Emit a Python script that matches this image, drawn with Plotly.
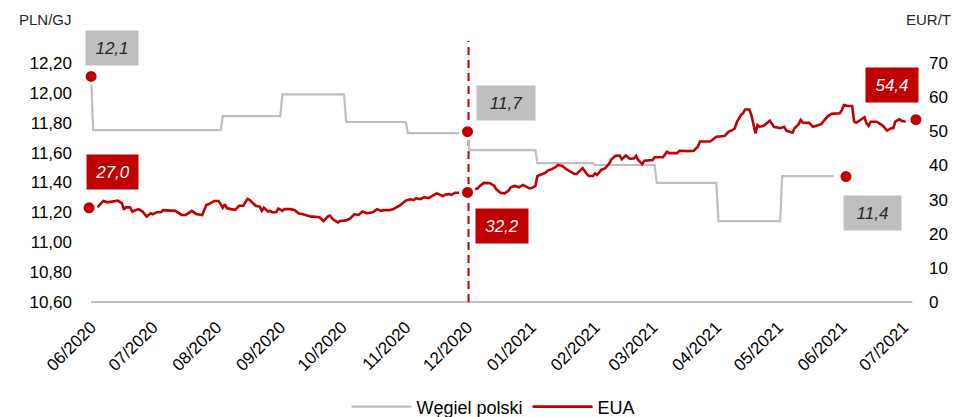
import plotly.graph_objects as go

# ---------------- data ----------------
coal_dates = ["2020-06-01", "2020-06-02", "2020-08-03", "2020-08-04", "2020-09-01", "2020-09-02",
              "2020-10-02", "2020-10-03", "2020-11-01", "2020-11-02", "2020-12-01", "2020-12-02",
              "2021-01-03", "2021-01-04", "2021-01-31", "2021-02-01", "2021-03-02", "2021-03-03",
              "2021-04-01", "2021-04-02", "2021-05-02", "2021-05-03", "2021-05-28"]
coal_values = [12.11, 11.75, 11.75, 11.845, 11.845, 11.99,
               11.99, 11.805, 11.805, 11.73, 11.73, 11.617,
               11.617, 11.53, 11.53, 11.517, 11.517, 11.397,
               11.397, 11.142, 11.142, 11.443, 11.443]

eua_dates = ["2020-06-04", "2020-06-07", "2020-06-09", "2020-06-12", "2020-06-14", "2020-06-16", "2020-06-17",
             "2020-06-18", "2020-06-20", "2020-06-21", "2020-06-22", "2020-06-24", "2020-06-26", "2020-06-27",
             "2020-06-28", "2020-06-30", "2020-07-01", "2020-07-03", "2020-07-05", "2020-07-06", "2020-07-09",
             "2020-07-12", "2020-07-15", "2020-07-17", "2020-07-20", "2020-07-22", "2020-07-25", "2020-07-27",
             "2020-07-28", "2020-07-31", "2020-08-02", "2020-08-04", "2020-08-05", "2020-08-06", "2020-08-08",
             "2020-08-10", "2020-08-12", "2020-08-14", "2020-08-16", "2020-08-17", "2020-08-20", "2020-08-22",
             "2020-08-23", "2020-08-24", "2020-08-26", "2020-08-27", "2020-08-28", "2020-08-30", "2020-08-31",
             "2020-09-02", "2020-09-03", "2020-09-06", "2020-09-08", "2020-09-10", "2020-09-12", "2020-09-14",
             "2020-09-16", "2020-09-17", "2020-09-20", "2020-09-22", "2020-09-24", "2020-09-25", "2020-09-27",
             "2020-09-29", "2020-09-30", "2020-10-03", "2020-10-05", "2020-10-07", "2020-10-09", "2020-10-11",
             "2020-10-13", "2020-10-16", "2020-10-18", "2020-10-20", "2020-10-21", "2020-10-24", "2020-10-26",
             "2020-10-28", "2020-10-29", "2020-11-01", "2020-11-03", "2020-11-05", "2020-11-06", "2020-11-08",
             "2020-11-10", "2020-11-12", "2020-11-14", "2020-11-16", "2020-11-17", "2020-11-19", "2020-11-20",
             "2020-11-22", "2020-11-23", "2020-11-25", "2020-11-27", "2020-12-01", "2020-12-06", "2020-12-07",
             "2020-12-09", "2020-12-12", "2020-12-14", "2020-12-15", "2020-12-17", "2020-12-19", "2020-12-21",
             "2020-12-22", "2020-12-24", "2020-12-26", "2020-12-28", "2020-12-29", "2020-12-31", "2021-01-01",
             "2021-01-03", "2021-01-04", "2021-01-06", "2021-01-08", "2021-01-09", "2021-01-11", "2021-01-13",
             "2021-01-14", "2021-01-16", "2021-01-18", "2021-01-20", "2021-01-22", "2021-01-23", "2021-01-25",
             "2021-01-26", "2021-01-28", "2021-01-29", "2021-01-31", "2021-02-01", "2021-02-02", "2021-02-04",
             "2021-02-06", "2021-02-08", "2021-02-09", "2021-02-11", "2021-02-13", "2021-02-14", "2021-02-16",
             "2021-02-18", "2021-02-20", "2021-02-21", "2021-02-22", "2021-02-24", "2021-02-25", "2021-02-27",
             "2021-03-01", "2021-03-02", "2021-03-06", "2021-03-08", "2021-03-09", "2021-03-13", "2021-03-14",
             "2021-03-18", "2021-03-21", "2021-03-23", "2021-03-24", "2021-03-26", "2021-03-29", "2021-04-01",
             "2021-04-05", "2021-04-07", "2021-04-09", "2021-04-10", "2021-04-11", "2021-04-13", "2021-04-14",
             "2021-04-15", "2021-04-17", "2021-04-18", "2021-04-19", "2021-04-20", "2021-04-21", "2021-04-22",
             "2021-04-24", "2021-04-26", "2021-04-27", "2021-04-29", "2021-05-02", "2021-05-04", "2021-05-05",
             "2021-05-08", "2021-05-09", "2021-05-11", "2021-05-12", "2021-05-13", "2021-05-16", "2021-05-18",
             "2021-05-20", "2021-05-22", "2021-05-25", "2021-05-27", "2021-05-31", "2021-06-01", "2021-06-02",
             "2021-06-04", "2021-06-06", "2021-06-07", "2021-06-08", "2021-06-10", "2021-06-12", "2021-06-13",
             "2021-06-14", "2021-06-15", "2021-06-18", "2021-06-21", "2021-06-23", "2021-06-25", "2021-06-26",
             "2021-06-27", "2021-06-29", "2021-06-30", "2021-07-02"]
eua_values = [27.7, 29.6, 29.2, 29.4, 29.7, 28.9, 27.0,
              27.8, 27.7, 26.5, 26.7, 27.2, 26.5, 25.7,
              25.0, 26.0, 25.7, 26.3, 26.3, 26.9, 26.7,
              26.7, 25.5, 25.5, 26.7, 25.8, 25.5, 28.4,
              28.6, 29.6, 29.6, 27.6, 28.6, 27.5, 27.2,
              27.0, 28.2, 28.2, 30.2, 29.9, 28.2, 27.9,
              26.7, 27.6, 26.5, 26.7, 26.3, 26.3, 27.4,
              26.7, 27.2, 27.2, 26.9, 25.9, 25.7, 25.3,
              25.0, 25.0, 24.8, 23.7, 25.0, 25.3, 24.0,
              23.3, 23.7, 23.9, 24.5, 25.7, 25.5, 26.5,
              26.0, 26.3, 27.2, 26.7, 26.9, 26.9, 27.2,
              27.9, 28.2, 29.7, 30.1, 29.9, 30.4, 30.1,
              30.7, 30.4, 31.0, 31.8, 31.6, 31.0, 31.4,
              31.6, 31.4, 32.0, 32.0, 32.1, 33.3, 34.0,
              34.9, 34.8, 34.0, 33.0, 32.0, 31.8, 32.6,
              33.6, 34.0, 33.6, 34.3, 34.0, 33.3, 33.3,
              34.0, 36.9, 37.5, 37.9, 38.5, 38.9, 39.6,
              40.1, 39.9, 38.9, 38.2, 37.5, 37.5, 38.7,
              39.2, 37.5, 36.9, 36.9, 37.7, 37.2, 38.7,
              39.2, 40.6, 41.8, 42.8, 42.9, 41.8, 42.9,
              41.9, 42.1, 42.8, 41.6, 40.4, 41.4, 41.6,
              41.6, 42.4, 42.4, 44.0, 43.6, 43.6, 44.3,
              44.2, 44.3, 45.5, 47.0, 47.0, 47.0, 48.4,
              48.6, 49.9, 50.4, 50.9, 52.8, 54.8, 55.3,
              56.4, 56.4, 54.8, 52.3, 49.4, 51.8, 51.3,
              51.6, 52.8, 53.1, 51.3, 50.9, 51.3, 50.2,
              49.6, 50.9, 52.1, 53.3, 52.5, 52.5, 51.3,
              51.6, 52.1, 54.3, 55.1, 55.3, 56.2, 57.7,
              57.4, 57.4, 52.8, 52.5, 53.3, 54.1, 52.3,
              51.6, 52.8, 52.8, 51.6, 50.2, 50.9, 50.9,
              52.8, 53.5, 53.1, 52.8]

# highlighted points and their labels
coal_mark_dates = ["2020-06-01", "2020-12-01", "2021-06-03"]
coal_mark_values = [12.11, 11.74, 11.44]
coal_mark_labels = ["12,1", "11,7", "11,4"]

eua_mark_dates = ["2020-05-31", "2020-12-01", "2021-07-07"]
eua_mark_values = [27.6, 32.1, 53.4]
eua_mark_labels = ["27,0", "32,2", "54,4"]

divider_date = "2020-12-01 12:00"
axis_start = "2020-06-01"
axis_end = "2021-07-05 07:00"

left_ticks = [10.6, 10.8, 11.0, 11.2, 11.4, 11.6, 11.8, 12.0, 12.2]

# ---------------- style ----------------
RED = "#C00000"
GRAY = "#BFBFBF"
FONT = "Liberation Sans, Arial, sans-serif"

fig = go.Figure()
fig.add_trace(go.Scatter(x=coal_dates, y=coal_values, mode="lines", name="Węgiel polski",
                         line=dict(color=GRAY, width=2.2), yaxis="y"))
fig.add_trace(go.Scatter(x=eua_dates, y=eua_values, mode="lines", name="EUA",
                         line=dict(color=RED, width=2.6), yaxis="y2"))
fig.add_trace(go.Scatter(x=coal_mark_dates, y=coal_mark_values, mode="markers", showlegend=False,
                         marker=dict(color=RED, size=14, line=dict(color="white", width=3)),
                         cliponaxis=False, yaxis="y"))
fig.add_trace(go.Scatter(x=eua_mark_dates, y=eua_mark_values, mode="markers", showlegend=False,
                         marker=dict(color=RED, size=14, line=dict(color="white", width=3)),
                         cliponaxis=False, yaxis="y2"))

# baseline (x axis line) spanning the date range only
fig.add_shape(type="line", xref="x", yref="paper", x0=axis_start, x1=axis_end, y0=0, y1=0,
              line=dict(color=GRAY, width=2), layer="below")
# vertical dashed divider
fig.add_shape(type="line", xref="x", yref="paper", x0=divider_date, x1=divider_date, y0=0, y1=1.092,
              line=dict(color=RED, width=2, dash="8px,5px"), layer="below")

# value labels
coal_shifts = [(21, 28.5, 52), (38, 29, 58), (26.5, -36, 57)]
eua_shifts = [(23.5, 36, 51), (34, -33.5, 52), (-24, 35, 52)]
for d, v, t, (dx, dy, w) in zip(coal_mark_dates, coal_mark_values, coal_mark_labels, coal_shifts):
    fig.add_annotation(x=d, y=v, xref="x", yref="y", text=t, showarrow=False,
                       xshift=dx, yshift=dy, width=w, height=34, bgcolor=GRAY, borderpad=0,
                       font=dict(family=FONT, size=17, color="#262626", style="italic"))
for d, v, t, (dx, dy, w) in zip(eua_mark_dates, eua_mark_values, eua_mark_labels, eua_shifts):
    fig.add_annotation(x=d, y=v, xref="x", yref="y2", text=t, showarrow=False,
                       xshift=dx, yshift=dy, width=w, height=34, bgcolor=RED, borderpad=0,
                       font=dict(family=FONT, size=17, color="white", style="italic"))

# axis unit titles
fig.add_annotation(x=-0.0504, y=1.18, xref="paper", yref="paper", text="PLN/GJ", showarrow=False,
                   xanchor="center", yanchor="middle", font=dict(family=FONT, size=15, color="#262626"))
fig.add_annotation(x=1.0396, y=1.18, xref="paper", yref="paper", text="EUR/T", showarrow=False,
                   xanchor="right", yanchor="middle", font=dict(family=FONT, size=15, color="#262626"))

fig.update_layout(
    width=957, height=417, autosize=False,
    margin=dict(l=87, r=37, t=63, b=115, autoexpand=False),
    paper_bgcolor="white", plot_bgcolor="white",
    separators=", ",
    showlegend=True,
    legend=dict(orientation="h", x=0.488, xanchor="center", y=-0.439, yanchor="middle",
                font=dict(family=FONT, size=18, color="#000000"), itemwidth=60,
                bgcolor="rgba(0,0,0,0)"),
    xaxis=dict(type="date", range=["2020-05-30", "2021-07-09"], tick0="2020-06-01", dtick="M1",
               tickformat="%m/%Y", tickangle=-45, showgrid=False, zeroline=False,
               showline=False, ticks="", automargin=False,
               tickfont=dict(family=FONT, size=17, color="#000000"), ticklabelstandoff=11),
    yaxis=dict(range=[10.6, 12.2], tickvals=left_ticks, tickformat=".2f", showgrid=False,
               zeroline=False, showline=False, ticks="", automargin=False,
               tickfont=dict(family=FONT, size=17, color="#000000"), ticklabelstandoff=14),
    yaxis2=dict(range=[0, 70], dtick=10, overlaying="y", side="right", showgrid=False,
                zeroline=False, showline=False, ticks="", automargin=False,
                tickfont=dict(family=FONT, size=17, color="#000000"), ticklabelstandoff=8),
)

fig.write_html("out.html", config={"displayModeBar": False},
               post_script="document.body.style.margin='0';")
